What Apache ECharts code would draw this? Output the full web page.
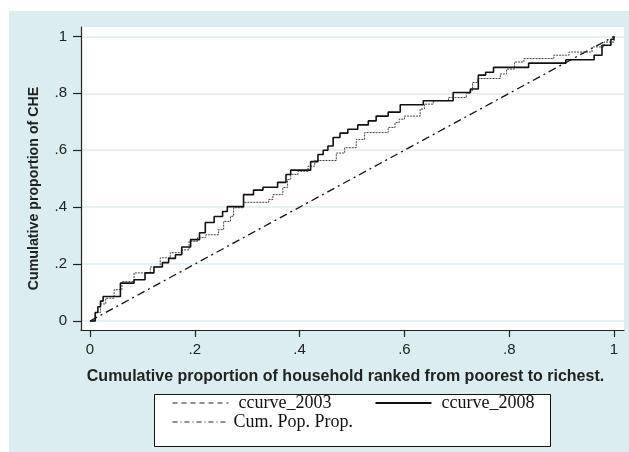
<!DOCTYPE html>
<html>
<head>
<meta charset="utf-8">
<script src="https://cdn.jsdelivr.net/npm/echarts@6/dist/echarts.min.js"></script>
<style>
  html, body { margin: 0; padding: 0; background: #fff; }
  #chartDiv { width: 629px; height: 452px; }
</style>
</head>
<body>
<div id="chartDiv"></div>
<script type="text/javascript">
  // tick values shared by both axes
  var tickValues = [0, 0.2, 0.4, 0.6, 0.8, 1];
  var tickLabels = ['0', '.2', '.4', '.6', '.8', '1'];

  // concentration curve 2003: [proportion of households, proportion of CHE]
  var ccurve2003 = [
    [0, 0], [0.01, 0.03], [0.02, 0.06], [0.03, 0.08], [0.046, 0.11], [0.061, 0.139],
    [0.084, 0.169], [0.115, 0.19], [0.134, 0.222], [0.153, 0.24], [0.176, 0.25],
    [0.189, 0.28], [0.205, 0.293], [0.221, 0.303], [0.245, 0.321], [0.255, 0.35],
    [0.268, 0.368], [0.274, 0.398], [0.293, 0.417], [0.341, 0.427], [0.349, 0.444],
    [0.368, 0.469], [0.377, 0.497], [0.383, 0.515], [0.397, 0.526], [0.416, 0.544],
    [0.429, 0.564], [0.47, 0.59], [0.486, 0.609], [0.508, 0.638], [0.524, 0.662],
    [0.569, 0.68], [0.582, 0.697], [0.59, 0.709], [0.6, 0.72], [0.63, 0.745],
    [0.638, 0.762], [0.655, 0.774], [0.684, 0.785], [0.718, 0.8], [0.725, 0.81],
    [0.73, 0.838], [0.74, 0.852], [0.783, 0.868], [0.795, 0.885], [0.81, 0.91],
    [0.828, 0.922], [0.885, 0.934], [0.914, 0.945], [0.958, 0.963], [0.981, 0.98],
    [1, 1]
  ];

  // concentration curve 2008
  var ccurve2008 = [
    [0, 0], [0.01, 0.03], [0.015, 0.05], [0.02, 0.07], [0.025, 0.086], [0.058, 0.133],
    [0.084, 0.145], [0.105, 0.169], [0.122, 0.19], [0.138, 0.205], [0.15, 0.22],
    [0.163, 0.233], [0.175, 0.26], [0.192, 0.286], [0.209, 0.31], [0.22, 0.346],
    [0.237, 0.367], [0.253, 0.385], [0.262, 0.402], [0.293, 0.444], [0.312, 0.46],
    [0.33, 0.47], [0.358, 0.487], [0.374, 0.515], [0.383, 0.53], [0.421, 0.56],
    [0.435, 0.585], [0.445, 0.6], [0.454, 0.615], [0.464, 0.645], [0.477, 0.66],
    [0.492, 0.674], [0.511, 0.689], [0.531, 0.703], [0.546, 0.72], [0.569, 0.734],
    [0.592, 0.76], [0.636, 0.774], [0.693, 0.803], [0.726, 0.815], [0.741, 0.864],
    [0.755, 0.874], [0.77, 0.891], [0.837, 0.906], [0.908, 0.918], [0.962, 0.934],
    [0.977, 0.969], [0.994, 0.99], [1, 1]
  ];

  // line of equality
  var cumPopProp = [[0, 0], [1, 1]];

  var myChart = echarts.init(document.getElementById('chartDiv'), null, {
    renderer: 'canvas'
  });

  var sansFont = '"Liberation Sans", Arial, sans-serif';
  var serifFont = '"Liberation Serif", "Times New Roman", serif';
  var gridBlue = '#dcedf1';

  var option = {
    backgroundColor: '#fff',
    animation: false,
    graphic: {
      elements: [
        {
          // light blue panel behind everything
          type: 'rect',
          z: -10,
          silent: true,
          shape: { x: 9, y: 11, width: 620, height: 441 },
          style: { fill: gridBlue }
        },
        {
          // legend box
          type: 'rect',
          z: 1,
          silent: true,
          shape: { x: 154.5, y: 394.5, width: 396, height: 52 },
          style: { fill: '#fff', stroke: '#111', lineWidth: 1 }
        }
      ]
    },
    grid: {
      left: 81,
      right: 5,
      top: 27,
      bottom: 122,
      show: true,
      backgroundColor: '#fff',
      borderWidth: 0
    },
    xAxis: {
      type: 'value',
      min: -0.0172,
      max: 1.019,
      name: 'Cumulative proportion of household ranked from poorest to richest.',
      nameLocation: 'middle',
      nameGap: 39,
      nameTextStyle: {
        fontFamily: sansFont,
        fontWeight: 'bold',
        fontSize: 16,
        color: '#222',
        padding: [0, 14, 0, 0]
      },
      axisLine: { show: true, onZero: false, lineStyle: { color: '#222', width: 1.2 } },
      axisTick: {
        show: true,
        length: 7,
        customValues: tickValues,
        lineStyle: { color: '#222', width: 1.2 }
      },
      axisLabel: {
        customValues: tickValues,
        margin: 12,
        fontFamily: sansFont,
        fontSize: 15,
        color: '#222',
        formatter: function (v) {
          return tickLabels[tickValues.indexOf(Math.round(v * 10) / 10)];
        }
      },
      splitLine: { show: false }
    },
    yAxis: {
      type: 'value',
      min: -0.0316,
      max: 1.033,
      name: 'Cumulative proportion of CHE',
      nameLocation: 'middle',
      nameGap: 40,
      nameTextStyle: {
        fontFamily: sansFont,
        fontWeight: 'bold',
        fontSize: 14.2,
        color: '#222',
        padding: [0, 20, 0, 0]
      },
      axisLine: { show: true, onZero: false, lineStyle: { color: '#222', width: 1.2 } },
      axisTick: {
        show: true,
        length: 8,
        customValues: tickValues,
        lineStyle: { color: '#222', width: 1.2 }
      },
      axisLabel: {
        customValues: tickValues,
        margin: 14,
        fontFamily: sansFont,
        fontSize: 15,
        color: '#222',
        formatter: function (v) {
          return tickLabels[tickValues.indexOf(Math.round(v * 10) / 10)];
        }
      },
      splitLine: { show: true, lineStyle: { color: gridBlue, width: 1.5 } }
    },
    legend: [
      {
        data: [
          { name: 'ccurve_2003', lineStyle: { type: [5, 4], width: 1, color: '#222' } },
          { name: 'ccurve_2008' }
        ],
        left: 172,
        top: 394,
        padding: 0,
        itemWidth: 56,
        itemHeight: 10,
        itemGap: 43,
        selectedMode: false,
        itemStyle: { opacity: 0 },
        textStyle: {
          fontFamily: serifFont,
          fontSize: 18,
          color: '#111',
          padding: [0, 0, 0, 5]
        }
      },
      {
        data: [
          { name: 'Cum. Pop. Prop.', lineStyle: { type: [5, 3, 1, 3], width: 1, color: '#222' } }
        ],
        left: 172,
        top: 413,
        padding: 0,
        itemWidth: 56,
        itemHeight: 10,
        selectedMode: false,
        itemStyle: { opacity: 0 },
        textStyle: {
          fontFamily: serifFont,
          fontSize: 18,
          color: '#111'
        }
      }
    ],
    series: [
      {
        name: 'ccurve_2003',
        type: 'line',
        step: 'end',
        symbol: 'none',
        data: ccurve2003,
        itemStyle: { color: '#444' },
        lineStyle: { color: '#444', width: 1, type: [2, 1] },
        z: 3
      },
      {
        name: 'ccurve_2008',
        type: 'line',
        step: 'end',
        symbol: 'none',
        data: ccurve2008,
        itemStyle: { color: '#111' },
        lineStyle: { color: '#111', width: 1.6, type: 'solid' },
        z: 4
      },
      {
        name: 'Cum. Pop. Prop.',
        type: 'line',
        symbol: 'none',
        data: cumPopProp,
        itemStyle: { color: '#111' },
        lineStyle: { color: '#111', width: 1.3, type: [8, 4, 2, 4] },
        z: 2
      }
    ]
  };
  myChart.setOption(option);
</script>
</body>
</html>
